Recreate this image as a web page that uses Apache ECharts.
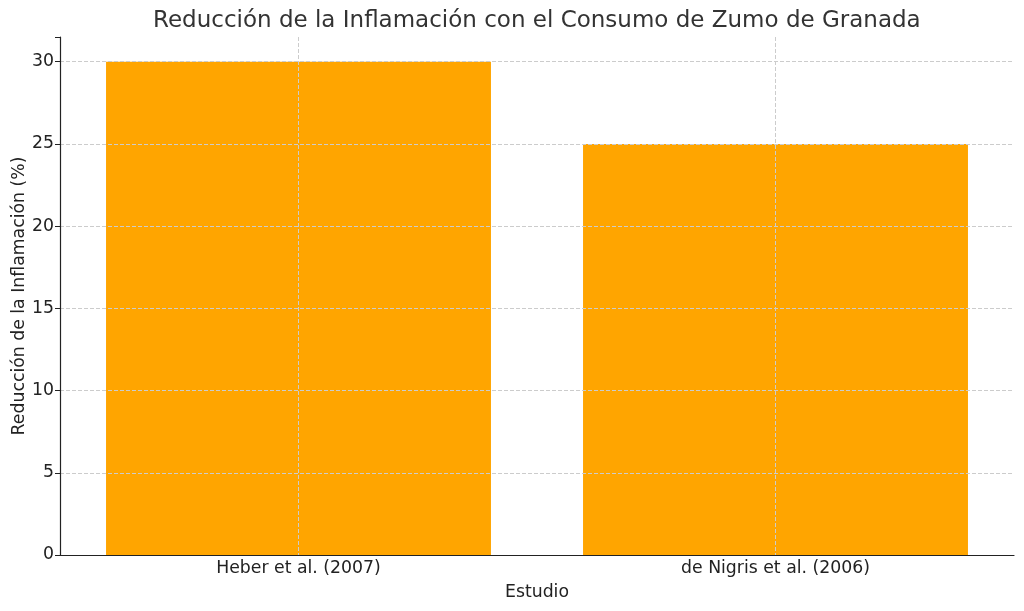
<!DOCTYPE html>
<html>
<head>
<meta charset="utf-8">
<script src="https://cdn.jsdelivr.net/npm/echarts@6/dist/echarts.min.js"></script>
<style>
  html, body { margin: 0; padding: 0; background: #fff; }
  #chart { width: 1024px; height: 611px; }
</style>
</head>
<body>
<div id="chart"></div>
<script>
var estudios = ['Heber et al. (2007)', 'de Nigris et al. (2006)'];
var reduccion = [30, 25];
var yTicks = [0, 5, 10, 15, 20, 25, 30];

var font = 'DejaVu Sans';
var chart = echarts.init(document.getElementById('chart'));
var option = {
  animation: false,
  textStyle: { fontFamily: font },
  title: {
    text: 'Reducción de la Inflamación con el Consumo de Zumo de Granada',
    left: 148,
    top: 5,
    textStyle: { fontFamily: font, fontSize: 23, fontWeight: 'normal', color: '#333' }
  },
  grid: { left: 60, right: 10, top: 37, bottom: 56, containLabel: false, outerBoundsMode: 'none' },
  xAxis: {
    type: 'category',
    data: estudios,
    z: 3,
    name: 'Estudio',
    nameLocation: 'middle',
    nameGap: 29,
    nameMoveOverlap: false,
    nameTextStyle: { fontFamily: font, fontSize: 17.3, color: '#222' },
    axisLine: { lineStyle: { color: '#222', width: 1.2 } },
    axisTick: { alignWithLabel: true, length: 5, lineStyle: { color: '#222' } },
    axisLabel: { fontFamily: font, fontSize: 17.3, color: '#222', margin: 5 },
    splitLine: { show: true, alignWithLabel: true, lineStyle: { color: '#cccccc', type: 'dashed', width: 1 } }
  },
  yAxis: {
    type: 'value',
    min: 0,
    max: 31.5,
    interval: 5,
    z: 3,
    name: 'Reducción de la Inflamación (%)',
    nameLocation: 'middle',
    nameGap: 32,
    nameMoveOverlap: false,
    nameTextStyle: { fontFamily: font, fontSize: 17.3, color: '#222' },
    axisLine: { show: true, lineStyle: { color: '#222', width: 1.2 } },
    axisTick: { show: true, length: 5, lineStyle: { color: '#222' } },
    axisLabel: {
      fontFamily: font, fontSize: 17.3, color: '#222', margin: 6,
      formatter: function (v) { return yTicks.indexOf(v) >= 0 ? String(v) : ''; }
    },
    splitLine: { show: true, showMaxLine: false, lineStyle: { color: '#cccccc', type: 'dashed', width: 1 } }
  },
  series: [{
    type: 'bar',
    data: reduccion,
    barWidth: '80.7%',
    itemStyle: { color: '#FFA500' }
  }]
};
chart.setOption(option);
</script>
</body>
</html>
